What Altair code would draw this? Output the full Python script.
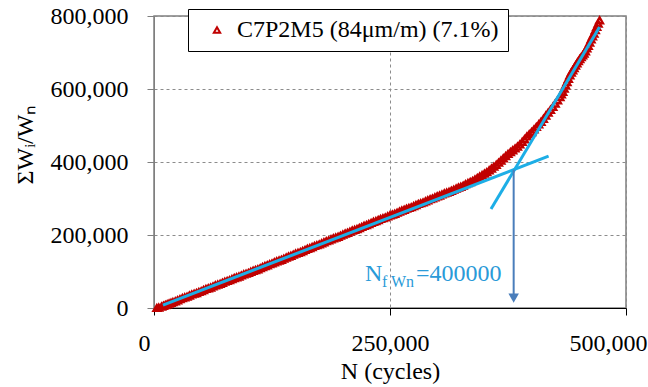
import altair as alt
import pandas as pd

SERIES = "C7P2M5 (84μm/m) (7.1%)"

n_k = [3, 5, 8, 10, 12, 14, 16, 18, 20, 22.5, 25, 27.5, 30, 32.5, 35, 37.5, 40, 42.5, 45, 47.5,
       50, 52.5, 55, 57.5, 60, 62.5, 65, 67.5, 70, 72.5, 75, 77.5, 80, 82.5, 85, 87.5, 90, 92.5,
       95, 97.5, 100, 102.5, 105, 107.5, 110, 112.5, 115, 117.5, 120, 122.5, 125, 127.5, 130,
       132.5, 135, 137.5, 140, 142.5, 145, 147.5, 150, 152.5, 155, 157.5, 160, 162.5, 165, 167.5,
       170, 172.5, 175, 177.5, 180, 182.5, 185, 187.5, 190, 192.5, 195, 197.5, 200, 202.5, 205,
       207.5, 210, 212.5, 215, 217.5, 220, 222.5, 225, 227.5, 230, 232.5, 235, 237.5, 240, 242.5,
       245, 247.5, 250, 252.5, 255, 257.5, 260, 262.5, 265, 267.5, 270, 272.5, 275, 277.5, 280,
       282.5, 285, 287.5, 290, 292.5, 295, 297.5, 300, 302.5, 305, 307.5, 310, 312.5, 315, 317.5,
       320, 322.5, 325, 327.5, 330, 332.5, 335, 337.5, 340, 342.5, 345, 347.5, 350, 352.5, 355,
       357.5, 360, 362.5, 365, 367.5, 370, 372.5, 375, 377.5, 380, 382.5, 385, 387.5, 390, 392.5,
       395, 397.5, 400, 402.5, 405, 407.5, 410, 412.5, 415, 417.5, 420, 422.5, 425, 427.5, 430,
       431.5, 433, 434.5, 436, 437.5, 439, 440.5, 442, 443.5, 445, 446.5, 448, 449.5, 451, 452.5,
       454, 455.5, 457, 458.5, 460, 461.5, 463, 464.5, 466, 467.5, 469, 470.5, 472]
w_k = [0, 1, 4, 6, 8, 10, 12, 14, 16, 18, 21, 24, 27, 29, 31, 34, 37, 39, 41, 44,
       46, 49, 52, 54, 56, 59, 62, 64, 66, 69, 72, 74, 76, 79, 82, 84, 86, 89,
       92, 94, 96, 99, 102, 104, 106, 109, 112, 115, 117, 120, 122, 125, 128,
       130, 132, 135, 138, 141, 143, 146, 149, 151, 153, 156, 159, 162, 164, 167,
       170, 172, 174, 177, 180, 183, 185, 188, 191, 193, 195, 198, 201, 204, 206,
       209, 212, 214, 216, 219, 222, 225, 227, 230, 233, 236, 238, 241, 244, 246,
       248, 251, 254, 256, 258, 261, 264, 267, 269, 272, 274, 276, 279, 282, 285,
       287, 289, 292, 295, 298, 300, 303, 306, 308, 311, 314, 316, 318, 321, 324,
       327, 330, 332, 335, 339, 342, 345, 348, 352, 356, 360, 364, 368, 372, 377,
       382, 387, 392, 398, 404, 410, 416, 422, 427, 432, 437, 442, 448, 455, 462,
       470, 476, 482, 489, 496, 503, 510, 518, 527, 535, 543, 551, 560, 569, 578,
       585, 592, 601, 610, 619, 628, 637, 645, 651, 657, 664, 670, 676, 682, 687,
       692, 697, 703, 711, 718, 727, 736, 744, 752, 761, 770, 779, 788]

# fitted tangent lines (start, end) in cycles / value
fit1_n = [9500, 418000]
fit1_w = [8000, 416000]
fit2_n = [357000, 472000]
fit2_w = [271000, 770000]

# failure point arrow
nf_x = 381000
nf_top = 379000
nf_bottom = 27000

x_ticks = [0, 250000, 500000]
y_ticks = [0, 200000, 400000, 600000, 800000]

FONT = "Liberation Serif"
FS = 24
RED = "#C00000"
BLUE = "#1DAEE6"
ARROW = "#4A7EBB"
LBLUE = "#2A9AD8"

pts = pd.DataFrame({"N": [v * 1000 for v in n_k],
                    "W": [v * 1000 for v in w_k],
                    "series": SERIES})
fits = pd.DataFrame({"N": fit1_n + fit2_n, "W": fit1_w + fit2_w,
                     "line": ["a", "a", "b", "b"]})
arrow_df = pd.DataFrame({"N": [nf_x], "W": [nf_top], "W2": [nf_bottom]})
head_df = pd.DataFrame({"N": [nf_x], "W": [nf_bottom]})
label_df = pd.DataFrame({"N": [223500], "W": [74000]})

xscale = alt.Scale(domain=[0, 500000], nice=False)
yscale = alt.Scale(domain=[0, 800000], nice=False)

xaxis = alt.Axis(values=x_ticks, format=",.0f", title="N (cycles)",
                 labelFont=FONT, labelFontSize=FS, labelColor="black",
                 titleFont=FONT, titleFontSize=FS, titleFontWeight="normal", titleColor="black",
                 domainColor="black", tickColor="black", tickSize=7, labelPadding=16,
                 titlePadding=4, labelFlush=False,
                 labelOffset={"condition": [{"test": "datum.value == 0", "value": -10},
                                            {"test": "datum.value == 500000", "value": -18}],
                              "value": 0},
                 grid=True, gridDash=[3, 3], gridColor="#8c8c8c", gridWidth=1)
yaxis = alt.Axis(values=y_ticks, format=",.0f", title="ΣWᵢ/Wₙ",
                 labelFont=FONT, labelFontSize=FS, labelColor="black",
                 titleFont=FONT, titleFontSize=FS, titleFontWeight="normal", titleColor="black",
                 domainColor="#7f7f7f", tickColor="#7f7f7f", tickSize=7, labelPadding=19,
                 titleX=-129, titleY=128, titleAngle=-90, titleAlign="center",
                 titleBaseline="middle",
                 grid=True, gridDash=[3, 3], gridColor="#8c8c8c", gridWidth=1)

base = alt.Chart(pts)

points = base.mark_point(shape="triangle-up", filled=False, size=45, strokeWidth=2.4,
                         clip=False, opacity=1).encode(
    x=alt.X("N:Q", scale=xscale, axis=xaxis),
    y=alt.Y("W:Q", scale=yscale, axis=yaxis),
    color=alt.Color("series:N", scale=alt.Scale(domain=[SERIES], range=[RED]),
                    legend=alt.Legend(title=" ", titleOrient="left", titleFontSize=1,
                                      titlePadding=8,
                                      orient="none", legendX=34, legendY=-7,
                                      fillColor="white", strokeColor="black",
                                      padding=9, symbolType="triangle-up",
                                      symbolSize=40, symbolStrokeWidth=2,
                                      labelOffset=8,
                                      labelFont=FONT, labelFontSize=FS,
                                      labelColor="black", labelLimit=400)),
)

lines = alt.Chart(fits).mark_line(color=BLUE, strokeWidth=3).encode(
    x=alt.X("N:Q", scale=xscale), y=alt.Y("W:Q", scale=yscale), detail="line:N")

arrow = alt.Chart(arrow_df).mark_rule(color=ARROW, strokeWidth=2).encode(
    x=alt.X("N:Q", scale=xscale), y=alt.Y("W:Q", scale=yscale), y2="W2:Q")
head = alt.Chart(head_df).mark_point(shape="triangle-down", filled=True, size=110,
                                     color=ARROW, opacity=1).encode(
    x=alt.X("N:Q", scale=xscale), y=alt.Y("W:Q", scale=yscale))

t_main = alt.Chart(label_df).mark_text(text="N", font=FONT, fontSize=FS, color=LBLUE,
                                       align="left", baseline="alphabetic").encode(
    x=alt.X("N:Q", scale=xscale), y=alt.Y("W:Q", scale=yscale))
t_sub = alt.Chart(label_df).mark_text(text="f Wn", font=FONT, fontSize=16, color=LBLUE,
                                      align="left", baseline="alphabetic", dx=17, dy=6).encode(
    x=alt.X("N:Q", scale=xscale), y=alt.Y("W:Q", scale=yscale))
t_eq = alt.Chart(label_df).mark_text(text="=400000", font=FONT, fontSize=FS, color=LBLUE,
                                     align="left", baseline="alphabetic", dx=51).encode(
    x=alt.X("N:Q", scale=xscale), y=alt.Y("W:Q", scale=yscale))

chart = alt.layer(points, lines, arrow, head, t_main, t_sub, t_eq).properties(
    width=472, height=292,
    autosize=alt.AutoSizeParams(type="none"),
    padding={"left": 154, "top": 16, "right": 22, "bottom": 79},
    background="white",
).configure_view(stroke="#7f7f7f", strokeWidth=1.5)

chart.save("out.html", embed_options={"renderer": "svg", "actions": False})
